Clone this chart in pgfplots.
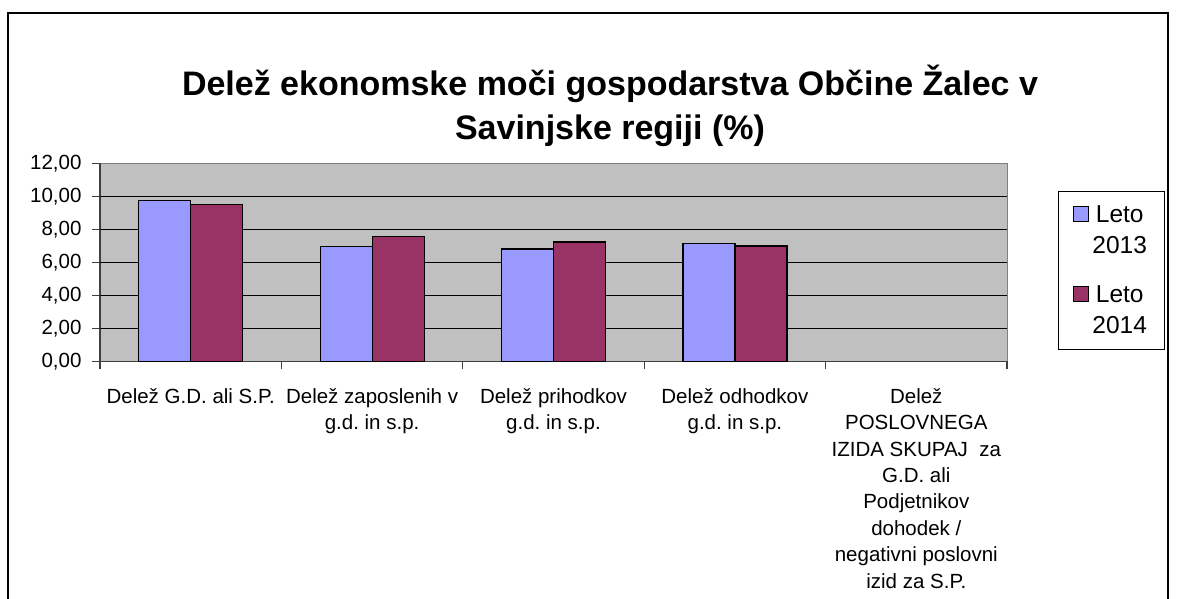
\documentclass[border=0pt]{standalone}
\usepackage{pgfplots}
\pgfplotsset{compat=1.18}
\usepackage{fontspec}
\setmainfont{Liberation Sans}
\frenchspacing
\definecolor{barA}{HTML}{9999FF}
\definecolor{barB}{HTML}{993366}
\definecolor{plotgray}{HTML}{C0C0C0}
\begin{document}
\begin{tikzpicture}
\useasboundingbox (0pt,0pt) rectangle (1179pt,598pt);
\draw[line width=1.5pt, black] (8pt,-20pt) -- (8pt,585pt) -- (1168pt,585pt) -- (1168pt,-20pt);
\node[align=center, font=\fontsize{34}{44}\selectfont\bfseries, anchor=base] at (610pt,458pt)
  {Delež ekonomske moči gospodarstva Občine Žalec v\\Savinjske regiji (\%)};
\begin{axis}[
  at={(100pt,236.7pt)}, anchor=south west,
  scale only axis, width=907pt, height=198pt,
  xmin=0.5, xmax=5.5, ymin=0, ymax=12,
  ybar=0pt, bar width=52pt,
  axis background/.style={fill=plotgray, draw=gray, line width=1pt},
  axis x line*=bottom, axis y line*=left,
  axis line style={draw=black!75, line width=1.2pt},
  xtick={1,2,3,4,5},
  xticklabels={
    {Delež G.D. ali S.P.},
    {Delež zaposlenih v\\g.d. in s.p.},
    {Delež prihodkov\\g.d. in s.p.},
    {Delež odhodkov\\g.d. in s.p.},
    {Delež\\POSLOVNEGA\\IZIDA SKUPAJ\ \ za\\G.D. ali\\Podjetnikov\\dohodek /\\negativni poslovni\\izid za S.P.}},
  minor xtick={0.5,1.5,2.5,3.5,4.5,5.5},
  ytick={0,2,4,6,8,10,12},
  minor ytick={0,2,4,6,8,10,12},
  major tick length=0pt, minor tick length=8pt,
  tick align=outside,
  minor tick style={black!75, line width=1.1pt},
  extra y ticks={2,4,6,8,10}, extra y tick labels={},
  extra y tick style={grid=major},
  major grid style={black, line width=0.9pt},
  xticklabel style={align=center, anchor=north, yshift=-23.5pt,
    font=\fontsize{20.5}{26.4}\selectfont\frenchspacing},
  yticklabel style={font=\fontsize{20.5}{24}\selectfont, xshift=-15pt,
    /pgf/number format/.cd, fixed, fixed zerofill, precision=2, use comma,
    assume math mode=true},
  legend cell align=left,
  legend image code/.code={%
    \draw[#1, line width=1pt] (0pt,32pt) rectangle (15pt,47pt);},
  legend style={at={(axis description cs:1.0562,0.860)}, anchor=north west,
    draw=black, line width=1pt, fill=white,
    font=\fontsize{24.5}{31}\selectfont,
    nodes={align=center, anchor=base west, inner xsep=3pt},
    inner xsep=15pt, inner ysep=12pt, row sep=27pt},
]
\addplot[fill=barA, draw=black, line width=1.2pt]
  coordinates {(1,9.76) (2,6.97) (3,6.81) (4,7.13)};
\addplot[fill=barB, draw=black, line width=1.2pt]
  coordinates {(1,9.52) (2,7.58) (3,7.23) (4,6.99)};
\legend{{Leto\\2013},{Leto\\2014}}
\end{axis}
\end{tikzpicture}
\end{document}
